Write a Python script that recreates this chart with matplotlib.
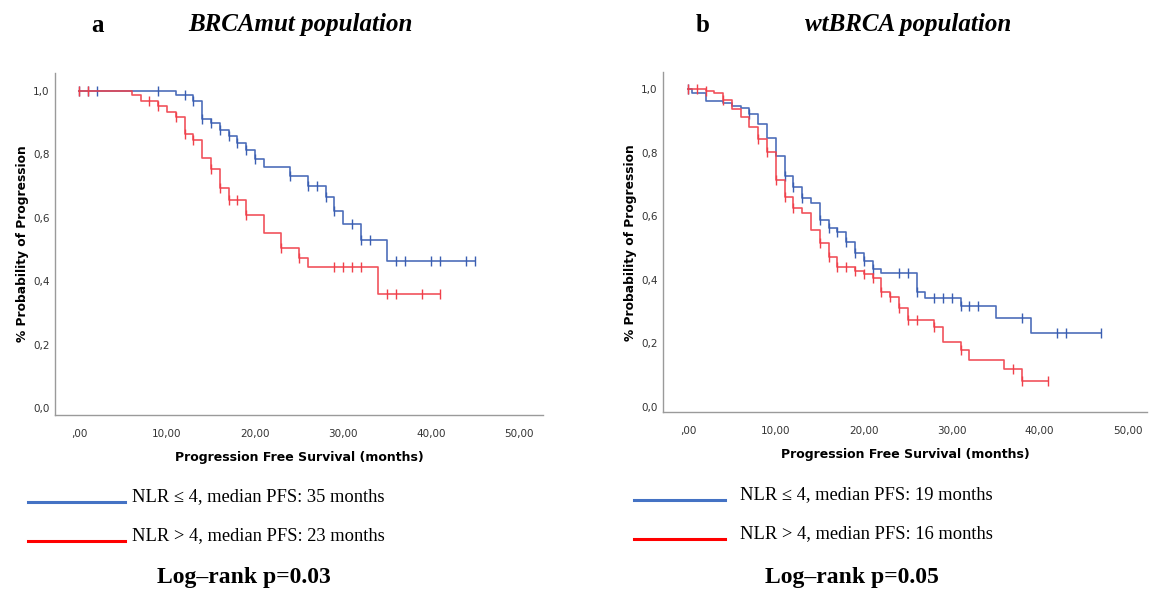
import numpy as np
import matplotlib
matplotlib.use("Agg")
import matplotlib.pyplot as plt

# Kaplan-Meier step data (months, survival)
# a: BRCAmut population
a_blue_t = [0, 11, 13, 14, 15, 16, 17, 18, 19, 20, 21, 24, 26, 28, 29, 30, 32, 35, 45]
a_blue_s = [1.0, 0.986, 0.968, 0.912, 0.897, 0.876, 0.857, 0.836, 0.813, 0.786, 0.76,
            0.731, 0.70, 0.665, 0.622, 0.58, 0.529, 0.463, 0.463]
a_blue_cens = [0, 1, 2, 9, 12, 13, 14, 15, 16, 17, 18, 19, 20, 24, 26, 27, 28, 29, 31,
               32, 33, 36, 37, 40, 41, 44, 45]

a_red_t = [0, 6, 7, 9, 10, 11, 12, 13, 14, 15, 16, 17, 19, 21, 23, 25, 26, 34, 41]
a_red_s = [1.0, 0.986, 0.968, 0.951, 0.933, 0.916, 0.865, 0.844, 0.789, 0.753, 0.695,
           0.655, 0.608, 0.553, 0.503, 0.474, 0.445, 0.358, 0.358]
a_red_cens = [0, 1, 8, 9, 11, 12, 13, 15, 16, 17, 18, 19, 23, 25, 29, 30, 31, 32, 35, 36,
              39, 41]

# b: wtBRCA population
b_blue_t = [0, 0.5, 2, 4, 5, 6, 7, 8, 9, 10, 11, 12, 13, 14, 15, 16, 17, 18, 19, 20, 21,
            22, 26, 27, 31, 35, 39, 47]
b_blue_s = [1.0, 0.99, 0.964, 0.956, 0.948, 0.942, 0.921, 0.89, 0.846, 0.79, 0.727, 0.693,
            0.658, 0.641, 0.588, 0.564, 0.551, 0.52, 0.483, 0.458, 0.435, 0.42, 0.362,
            0.342, 0.317, 0.278, 0.231, 0.231]
b_blue_cens = [0, 7, 11, 12, 13, 15, 16, 17, 18, 19, 20, 21, 24, 25, 26, 28, 29, 30, 31,
               32, 33, 38, 42, 43, 47]

b_red_t = [0, 2, 3, 4, 5, 6, 7, 8, 9, 10, 11, 12, 13, 14, 15, 16, 17, 19, 20, 21, 22, 23,
           24, 25, 28, 29, 31, 32, 36, 38, 41]
b_red_s = [1.0, 0.994, 0.988, 0.966, 0.937, 0.914, 0.882, 0.843, 0.801, 0.714, 0.662,
           0.626, 0.609, 0.558, 0.517, 0.472, 0.44, 0.428, 0.417, 0.405, 0.36, 0.347,
           0.31, 0.273, 0.25, 0.203, 0.178, 0.147, 0.119, 0.082, 0.082]
b_red_cens = [0, 1, 2, 4, 8, 9, 10, 11, 12, 15, 16, 17, 18, 19, 20, 21, 22, 23, 24, 25,
              26, 28, 31, 37, 38, 41]

y_ticks = [0.0, 0.2, 0.4, 0.6, 0.8, 1.0]
y_labels = ["0,0", "0,2", "0,4", "0,6", "0,8", "1,0"]
x_ticks = [0, 10, 20, 30, 40, 50]
x_labels = [",00", "10,00", "20,00", "30,00", "40,00", "50,00"]

leg_a = ["NLR \u2264 4, median PFS: 35 months", "NLR > 4, median PFS: 23 months"]
leg_b = ["NLR \u2264 4, median PFS: 19 months", "NLR > 4, median PFS: 16 months"]

BLUE = "#3a5eb2"
RED = "#f0404a"
SERIF = "Liberation Serif"


def surv_at(t, s, c):
    idx = np.searchsorted(t, c, side="right") - 1
    return np.asarray(s)[idx]


def km(ax, t, s, cens, color):
    ax.step(t, s, where="post", color=color, lw=1.2, alpha=0.9)
    ax.plot(cens, surv_at(t, s, cens), ls="none", marker="|", ms=6.5, mew=1.0,
            color=color)


def setup(ax, xlim, ylim):
    ax.set_xlim(*xlim)
    ax.set_ylim(*ylim)
    for sp in ["top", "right"]:
        ax.spines[sp].set_visible(False)
    for sp in ["left", "bottom"]:
        ax.spines[sp].set_color("#9a9a9a")
        ax.spines[sp].set_linewidth(1.0)
    ax.set_yticks(y_ticks)
    ax.set_yticklabels(y_labels)
    ax.set_xticks(x_ticks)
    ax.set_xticklabels(x_labels)
    ax.tick_params(axis="y", length=0, labelsize=7.5, colors="#333333", pad=4)
    ax.tick_params(axis="x", length=0, labelsize=7.5, colors="#333333", pad=10)
    ax.set_ylabel("% Probability of Progression", fontsize=8.8, fontweight="bold",
                  labelpad=3)
    ax.set_xlabel("Progression Free Survival (months)", fontsize=9,
                  fontweight="bold", labelpad=9)


fig = plt.figure(figsize=(11.55, 5.92), dpi=100)

ax1 = fig.add_axes([0.0476, 0.299, 0.4225, 0.5777])
km(ax1, a_blue_t, a_blue_s, a_blue_cens, BLUE)
km(ax1, a_red_t, a_red_s, a_red_cens, RED)
setup(ax1, (-2.73, 52.7), (-0.022, 1.056))

ax2 = fig.add_axes([0.574, 0.304, 0.419, 0.574])
km(ax2, b_blue_t, b_blue_s, b_blue_cens, BLUE)
km(ax2, b_red_t, b_red_s, b_red_cens, RED)
setup(ax2, (-2.84, 52.2), (-0.017, 1.054))

# panel titles
fig.text(97 / 1155, 1 - 25 / 592, "a", fontsize=18, fontweight="bold",
         family=SERIF, ha="center", va="center")
fig.text(300 / 1155, 1 - 25 / 592, "BRCAmut population", fontsize=18,
         fontweight="bold", style="italic", family=SERIF, ha="center", va="center")
fig.text(703 / 1155, 1 - 25 / 592, "b", fontsize=18, fontweight="bold",
         family=SERIF, ha="center", va="center")
fig.text(908 / 1155, 1 - 25 / 592, "wtBRCA population", fontsize=18,
         fontweight="bold", style="italic", family=SERIF, ha="center", va="center")

# hand-made legends below each panel
for (x0, x1, xt, ys, labels, pc, ptxt) in [
        (28, 125, 132, (502, 541), leg_a, 244, "Log\u2013rank p=0.03"),
        (634, 725, 740, (500, 539), leg_b, 852, "Log\u2013rank p=0.05")]:
    for y, col, lab in zip(ys, ["#4472c4", "#ff0000"], labels):
        fig.add_artist(plt.Line2D([x0 / 1155, x1 / 1155], [1 - y / 592, 1 - y / 592],
                                  color=col, lw=2.2))
        fig.text(xt / 1155, 1 - (y - 5) / 592, lab, fontsize=13.3, family=SERIF,
                 ha="left", va="center")
    fig.text(pc / 1155, 1 - 578 / 592, ptxt, fontsize=17, fontweight="bold",
             family=SERIF, ha="center", va="center")

fig.savefig("out.png", dpi=100)
